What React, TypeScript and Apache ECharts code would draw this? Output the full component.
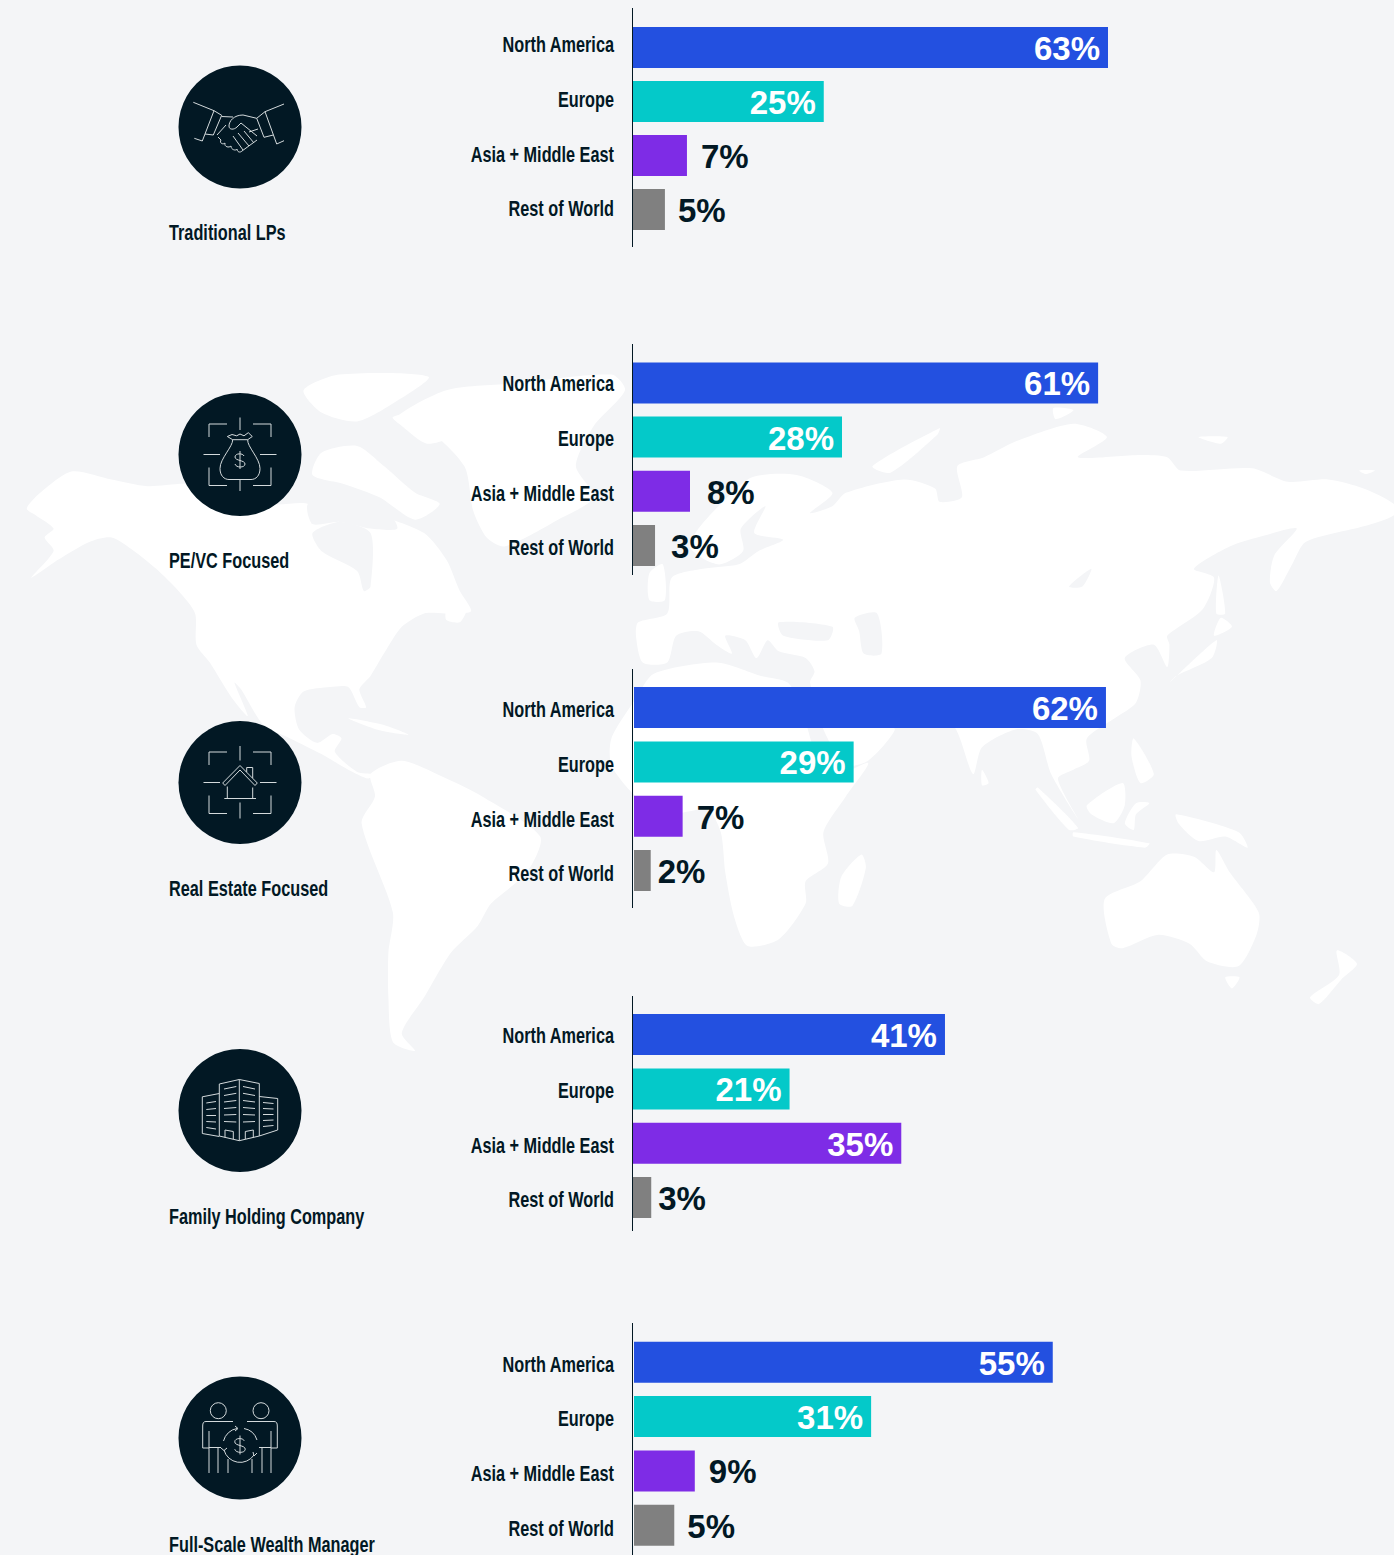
import React, { useEffect, useRef } from "react";
import * as echarts from "echarts";

const categories = ["North America", "Europe", "Asia + Middle East", "Rest of World"];
const panelTitles = ["Traditional LPs", "PE/VC Focused", "Real Estate Focused", "Family Holding Company", "Full-Scale Wealth Manager"];

// Bar lengths, in percent.
const traditionalLPs = [62.5, 25.1, 7.1, 4.2];
const peVcFocused = [61.2, 27.5, 7.5, 2.9];
const realEstateFocused = [62.1, 28.9, 6.4, 2.2];
const familyHoldingCompany = [41.05, 20.6, 35.3, 2.4];
const fullScaleWealthManager = [55.1, 31.2, 8.0, 5.3];

// The percentages printed on the picture.
const traditionalLPsPrinted = ["63%", "25%", "7%", "5%"];
const peVcFocusedPrinted = ["61%", "28%", "8%", "3%"];
const realEstateFocusedPrinted = ["62%", "29%", "7%", "2%"];
const familyHoldingCompanyPrinted = ["41%", "21%", "35%", "3%"];
const fullScaleWealthManagerPrinted = ["55%", "31%", "9%", "5%"];

const allValues = [traditionalLPs, peVcFocused, realEstateFocused, familyHoldingCompany, fullScaleWealthManager];
const allPrinted = [traditionalLPsPrinted, peVcFocusedPrinted, realEstateFocusedPrinted, familyHoldingCompanyPrinted, fullScaleWealthManagerPrinted];

// Layout (page pixels), one entry per panel.
const barLeft = [633, 633, 634, 633, 634];
const barFirstCenter = [47.5, 382.9, 707.6, 1034.6, 1362.3];
const barPitch = [54, 54.2, 54.3, 54.3, 54.3];
const labelFirstCenter = [44, 383, 709, 1035, 1364];
const ruleSpan = [[8, 247], [344, 575], [669, 908], [996, 1231], [1323, 1555]];
const circleCenter = [127, 454.5, 782.5, 1110.5, 1438];
const titleCenter = [232, 560, 888, 1216, 1544];
const outsideGap = [[0, 0, 14, 13], [0, 0, 17, 16], [0, 0, 14, 7], [0, 0, 0, 7], [0, 0, 14, 13]];
const barColors = ["#2350e0", "#04c9c9", "#7e2ce6", "#808080"];

const INK = "#021824";
const BG = "#f4f5f7";
const LABEL_FONT = '"Liberation Sans", sans-serif';
const LABEL_SQUEEZE = 0.74;
const VALUE_FONT = '"Liberation Sans", sans-serif';

const circlePath = (x: number, y: number, r: number) =>
  `M${x - r} ${y}A${r} ${r} 0 1 0 ${x + r} ${y}A${r} ${r} 0 1 0 ${x - r} ${y}`;
const dollar = (cx: number, cy: number, k: number) =>
  `M${cx + 4 * k} ${cy - 4 * k}C${cx + 3 * k} ${cy - 7 * k} ${cx - 5 * k} ${cy - 7 * k} ${cx - 5 * k} ${cy - 3 * k}` +
  `C${cx - 5 * k} ${cy + 1 * k} ${cx + 5 * k} ${cy} ${cx + 5 * k} ${cy + 4 * k}` +
  `C${cx + 5 * k} ${cy + 8 * k} ${cx - 4 * k} ${cy + 8 * k} ${cx - 5 * k} ${cy + 4 * k}` +
  `M${cx} ${cy - 9 * k}L${cx} ${cy + 9 * k}`;
const frame =
  "M-31 -17.5L-31 -30.5L-13 -30.5M13 -30.5L31 -30.5L31 -17.5M-31 13L-31 31L-13 31M13 31L31 31L31 13";

const iconPaths: Record<string, string> = {
  iconHands:
    "M-46.7 -24.7L-26 -16.3L-37.7 14L-45.7 11.3M44 -23L25 -15.3L36.7 17L44 13.7" +
    "M-26 -16.3L-18.3 -11.7L-26.7 8L-35 7M25 -15.3L16.7 -8.7L24 10.3L33.3 8" +
    "M-18.3 -10.5L-7 -10M16.7 -8.7L3 -12C-6 -12 -11 -6 -11 -1C-11 3 -6 3 -3 0L1 -4L17 9" +
    "M18 2L9 5M-22 10L-19 13C-21 16 -17 18 -15 16C-16 20 -11 21 -9 19C-9 23 -4 24 -3 22C-3 25 0 26 2 24L17 13" +
    "M-7 9L3 23M-2 6L9 19M4 4L14 16M-23 8L-14 -2",
  iconBag:
    frame +
    "M0 -37L0 -24.5M0 25.5L0 36.5M-36.5 0L-20 0M20 0L36.5 0" +
    "M-12.7 -18L-8 -20L-3.3 -18.7L0 -20.5L4 -18.7L8.3 -21.8L12.3 -18L7.7 -14.8L-7.3 -14.8Z" +
    "M-7.3 -14.8C-7 -8 -20 4 -20 14C-20 21 -16 25 -11 25L11 25C16 25 20 21 20 14C20 4 7 -8 7.7 -14.8" +
    dollar(0, 5.5, 1),
  iconHouse:
    frame +
    "M0 -36.5L0 -22M0 20L0 36M-36.5 0L-20 0M20 0L36.5 0" +
    "M-17.3 0.5L0 -17L17.3 0.5L15 3L0 -12.5L-15 3Z" +
    "M-15.7 16L16 16M-12.7 4L-12.7 16M12.7 5L12.7 16M6.7 -10.5L6.7 -15L12.7 -15L12.7 -4.5",
  iconTowers:
    "M-0.7 -31L-20.7 -26.5L-20.7 25.5L-0.7 30.2L19.3 25.5L19.3 -27Z M-0.7 -31L-0.7 30.2" +
    "M-20.7 -17L-37.7 -13.7L-37.7 23L-20.7 26M19.3 -14L37.7 -12L37.7 19.5L19.3 25.5" +
    "M-15 27L-15 19.5L-6.7 21L-6.7 28.5M5.3 28.5L5.3 21L13.3 19.5L13.3 27" +
    "M-16 -21.5L-3.7 -24M-16 -15L-3.7 -17.2M-16 -8.5L-3.7 -10M-16 -2L-3.7 -3M-16 4.5L-3.7 4M-16 11L-3.7 11.5" +
    "M3 -24L15 -21.5M3 -17.2L15 -15M3 -10L15 -8.5M3 -3L15 -2M3 4L15 4.5M3 11.5L15 11" +
    "M-33.7 -7.5L-24 -9M-33.7 -1L-24 -2M-33.7 5L-24 5M-33.7 11L-24 11.5M-33.7 17L-24 18.5" +
    "M23 -8L33.5 -7M23 -2L33.5 -1.5M23 4L33.5 4M23 10L33.5 9.5M23 16L33.5 15",
  iconPeople:
    circlePath(-21.7, -27.3, 8) + circlePath(21, -27.3, 8) +
    "M-7 -16.5L-34 -16.5C-36.5 -16.5 -37.3 -15 -37.3 -12L-37.3 10L-31 10L-31 -7M-31 10L-31 35M-22 10L-22 35M-31 9.5L-19 9.5" +
    "M7 -16.5L34 -16.5C36.5 -16.5 37.3 -15 37.3 -12L37.3 10L31 10L31 -7M31 10L31 35M22 10L22 35M31 9.5L19 9.5" +
    "M-12 35L-12 21M12 35L12 21" +
    "M-3 -9.5A16.7 16.7 0 0 0 -16.5 3M-16 12A16.7 16.7 0 0 0 14 17M17 2A16.7 16.7 0 0 0 4 -9.5" +
    "M-5 -12L-2 -9.5L-5 -7M-19 10L-16 12.5L-13 10M17 15L14 18L13 14" +
    dollar(0, 7, 1.05),
};
Object.keys(iconPaths).forEach((name) => {
  echarts.graphic.registerShape(name, echarts.graphic.extendPath(iconPaths[name], {}));
});
const iconOrder = ["iconHands", "iconBag", "iconHouse", "iconTowers", "iconPeople"];

// Decorative world map backdrop.
const fromLeft = (p: number[][]) => p.map(([x, y]) => [x / 2.24, 350 + y / 2.24]);
const fromRight = (p: number[][]) => p.map(([x, y]) => [694 + x / 2.24, 350 + y / 2.24]);

const landLeft: number[][][] = [
  [[60, 355], [90, 320], [160, 272], [250, 290], [330, 305], [420, 300], [480, 320], [560, 315], [610, 345], [690, 345], [700, 390], [760, 340], [850, 370], [950, 410], [1000, 470], [1030, 540], [1055, 585], [1000, 590], [950, 590], [900, 620], [860, 680], [830, 730], [805, 760], [820, 800], [805, 800], [780, 755], [740, 755], [680, 765], [660, 800], [670, 850], [710, 880], [745, 860], [765, 870], [750, 900], [800, 945], [835, 950], [825, 960], [780, 940], [720, 905], [650, 870], [590, 840], [540, 760], [525, 745], [555, 820], [520, 780], [470, 700], [440, 660], [437, 590], [400, 540], [350, 490], [300, 450], [250, 420], [200, 430], [130, 470], [70, 510], [120, 450], [100, 420], [120, 400], [80, 370]],
  [[680, 90], [760, 55], [960, 60], [880, 120], [800, 160], [720, 140]],
  [[880, 150], [1000, 130], [1060, 170], [960, 210], [900, 170]],
  [[1000, 90], [1150, 75], [1370, 55], [1400, 90], [1330, 170], [1290, 260], [1330, 330], [1250, 380], [1130, 440], [1090, 420], [1060, 360], [1040, 260], [950, 170], [890, 150]],
  [[830, 950], [900, 920], [1000, 960], [1080, 1000], [1210, 1090], [1180, 1170], [1100, 1240], [1070, 1290], [1010, 1350], [950, 1450], [900, 1530], [930, 1570], [880, 1550], [870, 1450], [870, 1350], [880, 1260], [810, 1060], [840, 1000]],
];
const seaLeft: number[][][] = [
  [[700, 410], [760, 385], [830, 410], [830, 530], [815, 540], [800, 495], [720, 450]],
  [[690, 345], [780, 330], [860, 350], [890, 400], [830, 400], [760, 385], [700, 390]],
];
const islesLeft: number[][][] = [
  [[720, 230], [800, 215], [860, 260], [930, 320], [985, 345], [930, 380], [850, 330], [770, 300], [700, 280]],
  [[500, 150], [620, 230], [640, 320], [560, 290], [520, 220]],
  [[780, 825], [860, 840], [915, 862], [850, 852]],
  [[1000, 585], [1045, 580], [1030, 610], [1000, 605]],
];
const landRight: number[][][] = [
  [[-130, 640], [-115, 700], [-60, 700], [-40, 640], [10, 630], [50, 660], [85, 680], [70, 640], [115, 650], [140, 690], [165, 650], [190, 675], [250, 690], [270, 720], [260, 745], [290, 850], [340, 930], [390, 920], [450, 850], [420, 830], [480, 800], [580, 840], [625, 950], [645, 890], [720, 850], [770, 860], [800, 950], [860, 1050], [815, 960], [850, 940], [885, 920], [880, 870], [950, 820], [990, 790], [1000, 740], [965, 690], [1030, 660], [1060, 710], [1065, 660], [1060, 640], [1140, 580], [1165, 510], [1120, 490], [1200, 440], [1280, 415], [1350, 400], [1300, 460], [1290, 520], [1305, 540], [1340, 480], [1370, 430], [1500, 395], [1568, 370], [1568, 345], [1500, 310], [1420, 290], [1330, 295], [1250, 265], [1090, 270], [1060, 240], [1000, 235], [860, 240], [925, 195], [850, 165], [720, 205], [650, 240], [590, 260], [600, 330], [550, 340], [540, 310], [470, 290], [340, 320], [310, 350], [260, 365], [310, 320], [230, 280], [130, 285], [60, 345], [10, 400], [-10, 440], [25, 470], [60, 480], [110, 450], [105, 400], [160, 350], [135, 410], [200, 425], [145, 450], [100, 480], [20, 490], [-50, 510], [-60, 590], [-125, 610]],
  [[-90, 725], [-130, 780], [-185, 870], [-185, 930], [-130, 1000], [-60, 1040], [30, 1030], [60, 1080], [70, 1170], [90, 1270], [120, 1335], [190, 1320], [250, 1240], [250, 1190], [300, 1150], [290, 1080], [340, 1000], [390, 925], [300, 960], [270, 900], [240, 800], [210, 745], [150, 730], [50, 700]],
  [[920, 1230], [1000, 1190], [1060, 1130], [1120, 1135], [1165, 1170], [1170, 1120], [1200, 1170], [1265, 1260], [1260, 1310], [1220, 1380], [1150, 1370], [1110, 1330], [1040, 1310], [960, 1340], [935, 1330]],
  [[1190, 1405], [1222, 1405], [1205, 1430]],
  [[1440, 1345], [1485, 1375], [1450, 1410], [1400, 1465], [1380, 1450], [1445, 1400]],
  [[770, 980], [860, 1070], [840, 1075], [765, 985]],
  [[850, 1080], [1020, 1105], [1010, 1115], [850, 1090]],
  [[880, 1020], [960, 970], [965, 1020], [940, 1060], [890, 1040]],
  [[965, 1060], [990, 1015], [1020, 1015], [990, 1040], [985, 1075]],
  [[1080, 1040], [1220, 1080], [1240, 1115], [1190, 1090], [1130, 1100], [1085, 1060]],
  [[985, 870], [1030, 950], [1000, 970], [980, 910]],
  [[1065, 745], [1170, 650], [1160, 690], [1080, 730]],
  [[1180, 600], [1205, 620], [1165, 640]],
  [[1175, 505], [1190, 590], [1170, 590]],
  [[375, 1130], [385, 1160], [355, 1245], [325, 1240], [330, 1180]],
  [[645, 940], [660, 970], [645, 975]],
  [[400, 260], [550, 175], [545, 190], [440, 275]],
  [[1130, 195], [1195, 195], [1180, 210]],
  [[1490, 270], [1525, 270], [1505, 278]],
  [[805, 130], [850, 135], [810, 155]],
  [[-100, 500], [-70, 480], [-65, 560], [-100, 560]],
];
const seaRight: number[][][] = [
  [[190, 610], [310, 620], [300, 650], [200, 640]],
  [[360, 600], [410, 590], [420, 680], [380, 680], [370, 630]],
  [[890, 490], [840, 530], [870, 530]],
];

const landElement = (points: number[][], fill: string) => ({
  type: "polygon",
  silent: true,
  shape: { points, smooth: 0.25 },
  style: { fill },
});

const squeezedLabel = (api: any, text: string) => {
  const [x, y] = api.coord([0, api.value(1)]);
  return {
    type: "text",
    x: x - 18,
    y,
    scaleX: LABEL_SQUEEZE,
    style: {
      text,
      fill: INK,
      fontFamily: LABEL_FONT,
      fontWeight: "bold",
      fontSize: 22,
      align: "right",
      verticalAlign: "middle",
    },
  };
};

function buildOption() {
  const grid: any[] = [];
  const xAxis: any[] = [];
  const yAxis: any[] = [];
  const series: any[] = [];

  allValues.forEach((values, p) => {
    const printed = allPrinted[p];
    const barGrid = grid.length;
    const pitch = barPitch[p];
    grid.push({ left: barLeft[p], width: 760, top: barFirstCenter[p] - pitch / 2, height: pitch * 4 });
    xAxis.push({ gridIndex: barGrid, type: "value", min: 0, max: 100, show: false });
    yAxis.push({ gridIndex: barGrid, type: "category", inverse: true, data: categories, show: false });
    series.push({
      type: "bar",
      xAxisIndex: barGrid,
      yAxisIndex: barGrid,
      barWidth: 41,
      data: values.map((value, i) => {
        const inside = outsideGap[p][i] === 0;
        return {
          value,
          itemStyle: { color: barColors[i] },
          label: {
            show: true,
            position: inside ? "insideRight" : "right",
            distance: inside ? 8 : outsideGap[p][i],
            offset: [0, 1],
            formatter: () => printed[i],
            color: inside ? "#ffffff" : INK,
            fontFamily: VALUE_FONT,
            fontWeight: "bold",
            fontSize: 33,
          },
        };
      }),
    });

    const labelGrid = grid.length;
    grid.push({ left: 632, width: 100, top: labelFirstCenter[p] - 27.4, height: 219.2 });
    xAxis.push({ gridIndex: labelGrid, type: "value", min: 0, max: 1, show: false });
    yAxis.push({ gridIndex: labelGrid, type: "category", inverse: true, data: categories, show: false });
    series.push({
      type: "custom",
      xAxisIndex: labelGrid,
      yAxisIndex: labelGrid,
      silent: true,
      data: categories.map((c, i) => [0, i]),
      encode: { x: 0, y: 1 },
      renderItem: (params: any, api: any) => squeezedLabel(api, categories[params.dataIndex]),
    });
  });

  const elements: any[] = [];
  fromLeftAll(landLeft).forEach((pts) => elements.push(landElement(pts, "#ffffff")));
  fromRightAll(landRight).forEach((pts) => elements.push(landElement(pts, "#ffffff")));
  fromLeftAll(seaLeft).forEach((pts) => elements.push(landElement(pts, BG)));
  fromRightAll(seaRight).forEach((pts) => elements.push(landElement(pts, BG)));
  fromLeftAll(islesLeft).forEach((pts) => elements.push(landElement(pts, "#ffffff")));

  circleCenter.forEach((cy, p) => {
    elements.push({ type: "circle", silent: true, shape: { cx: 240, cy, r: 61.5 }, style: { fill: INK } });
    elements.push({
      type: iconOrder[p],
      silent: true,
      x: 240,
      y: cy,
      style: { fill: "none", stroke: "#d4dadc", lineWidth: 1 },
    });
    elements.push({
      type: "text",
      silent: true,
      x: 169,
      y: titleCenter[p],
      scaleX: LABEL_SQUEEZE,
      style: {
        text: panelTitles[p],
        fill: INK,
        fontFamily: LABEL_FONT,
        fontWeight: "bold",
        fontSize: 22,
        align: "left",
        verticalAlign: "middle",
      },
    });
  });
  ruleSpan.forEach(([y1, y2]) => {
    elements.push({
      type: "line",
      silent: true,
      z: 20,
      shape: { x1: 632.5, y1, x2: 632.5, y2 },
      style: { stroke: INK, lineWidth: 1 },
    });
  });

  return {
    animation: false,
    backgroundColor: BG,
    graphic: { elements },
    grid,
    xAxis,
    yAxis,
    series,
  };
}
function fromLeftAll(list: number[][][]) {
  return list.map(fromLeft);
}
function fromRightAll(list: number[][][]) {
  return list.map(fromRight);
}

export default function App() {
  const ref = useRef<HTMLDivElement>(null);
  useEffect(() => {
    document.body.style.margin = "0";
    document.body.style.background = BG;
    const chart = echarts.init(ref.current!, undefined, { renderer: "svg" });
    chart.setOption(buildOption() as any);
    return () => chart.dispose();
  }, []);
  return <div ref={ref} style={{ width: 1394, height: 1555 }} />;
}
